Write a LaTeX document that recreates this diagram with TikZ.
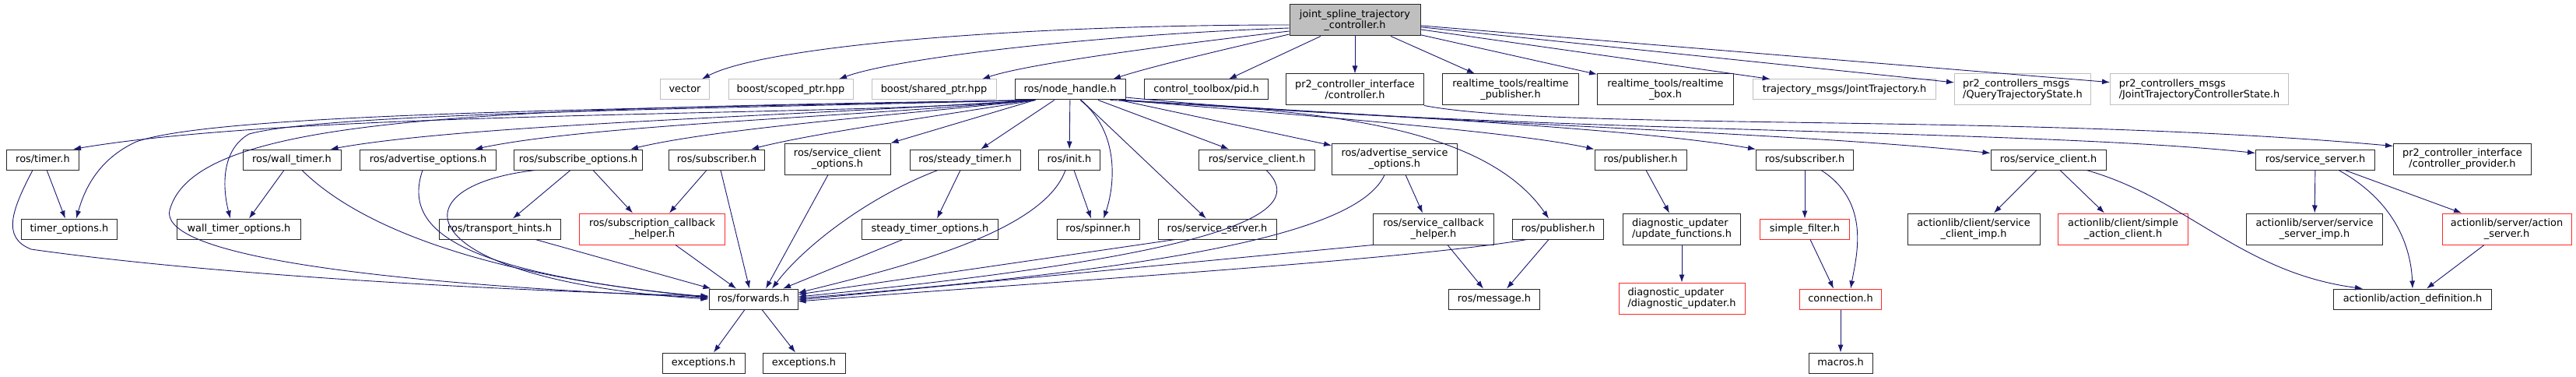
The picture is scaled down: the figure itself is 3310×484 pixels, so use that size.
\documentclass[tikz,border=0pt]{standalone}
\usepackage{fontspec}
\setmainfont{DejaVu Sans}
\usetikzlibrary{arrows.meta}
\definecolor{edgeblue}{RGB}{25,25,112}
\definecolor{truncred}{RGB}{255,40,40}
\definecolor{nodocgrey}{RGB}{191,191,191}
\newcommand{\graphfont}{\fontsize{12.9}{14}\selectfont}

\begin{document}
\begin{tikzpicture}[x=1pt, y=-1pt,
filebox/.style={draw=black!85, line width=1pt, fill=white, inner sep=0pt, font=\graphfont},
oneline/.style={filebox, minimum height=26pt, text height=9.6pt, text depth=3pt},
twoline/.style={filebox, minimum height=40pt, align=center},
nodoc/.style={draw=nodocgrey},
trunc/.style={draw=truncred},
dep/.style={draw=edgeblue, line width=0.9pt, -{Latex[length=10pt,width=7pt]}}]
\useasboundingbox (0,0) rectangle (3310,484);

\node [twoline, fill=nodocgrey, minimum width=168pt] (root) at (1741,26) {joint\_spline\_trajectory\\\_controller.h};

\node [oneline, nodoc, minimum width=63pt] (vector) at (880,115) {vector};
\node [oneline, nodoc, minimum width=160pt] (scopedptr) at (1016,115) {boost/scoped\_ptr.hpp};
\node [oneline, nodoc, minimum width=160pt] (sharedptr) at (1200,115) {boost/shared\_ptr.hpp};
\node [oneline, minimum width=142pt] (nodehandle) at (1375,115) {ros/node\_handle.h};
\node [oneline, minimum width=159pt] (pid) at (1550,115) {control\_toolbox/pid.h};
\node [twoline, minimum width=177pt] (controller) at (1741,115) {pr2\_controller\_interface\\/controller.h};
\node [twoline, minimum width=175pt] (rtpublisher) at (1941,115) {realtime\_tools/realtime\\\_publisher.h};
\node [twoline, minimum width=175pt] (rtbox) at (2140,115) {realtime\_tools/realtime\\\_box.h};
\node [oneline, nodoc, minimum width=235pt] (jointtraj) at (2370,115) {trajectory\_msgs/JointTrajectory.h};
\node [twoline, nodoc, align=left, minimum width=175pt] (querystate) at (2599,115) {pr2\_controllers\_msgs\\/QueryTrajectoryState.h};
\node [twoline, nodoc, align=left, minimum width=229pt] (jtcstate) at (2826,115) {pr2\_controllers\_msgs\\/JointTrajectoryControllerState.h};

\node [oneline, minimum width=93pt] (timer) at (55,205) {ros/timer.h};
\node [oneline, minimum width=126pt] (walltimer) at (375,205) {ros/wall\_timer.h};
\node [oneline, minimum width=175pt] (advopts) at (550,205) {ros/advertise\_options.h};
\node [oneline, minimum width=165pt] (subopts) at (743,205) {ros/subscribe\_options.h};
\node [oneline, minimum width=123pt] (subscriberA) at (921,205) {ros/subscriber.h};
\node [twoline, minimum width=136pt] (srvclientopts) at (1076,204) {ros/service\_client\\\_options.h};
\node [oneline, minimum width=142pt] (steadytimer) at (1240,205) {ros/steady\_timer.h};
\node [oneline, minimum width=79pt] (init) at (1374,205) {ros/init.h};
\node [oneline, minimum width=149pt] (srvclientA) at (1615,205) {ros/service\_client.h};
\node [twoline, minimum width=161pt] (advsrvopts) at (1792,204) {ros/advertise\_service\\\_options.h};
\node [oneline, minimum width=118pt] (publisherB) at (2108,205) {ros/publisher.h};
\node [oneline, minimum width=125pt] (subscriberB) at (2319,205) {ros/subscriber.h};
\node [oneline, minimum width=148pt] (srvclientB) at (2632,205) {ros/service\_client.h};
\node [oneline, minimum width=153pt] (srvserverB) at (2975,205) {ros/service\_server.h};
\node [twoline, minimum width=177pt] (provider) at (3164,204) {pr2\_controller\_interface\\/controller\_provider.h};

\node [oneline, minimum width=123pt] (timeropts) at (89,294) {timer\_options.h};
\node [oneline, minimum width=159pt] (walltimeropts) at (307,294) {wall\_timer\_options.h};
\node [oneline, minimum width=156pt] (transporthints) at (642,294) {ros/transport\_hints.h};
\node [twoline, trunc, minimum width=187pt] (subcbhelper) at (838,294) {ros/subscription\_callback\\\_helper.h};
\node [oneline, minimum width=175pt] (steadytimeropts) at (1195,294) {steady\_timer\_options.h};
\node [oneline, minimum width=106pt] (spinner) at (1411,294) {ros/spinner.h};
\node [oneline, minimum width=152pt] (srvserverA) at (1564,294) {ros/service\_server.h};
\node [twoline, minimum width=155pt] (srvcbhelper) at (1842,294) {ros/service\_callback\\\_helper.h};
\node [oneline, minimum width=117pt] (publisherA) at (2002,294) {ros/publisher.h};
\node [twoline, align=left, minimum width=151pt] (updatefns) at (2161,294) {diagnostic\_updater\\/update\_functions.h};
\node [oneline, trunc, minimum width=115pt] (simplefilter) at (2319,294) {simple\_filter.h};
\node [twoline, minimum width=170pt] (clientimp) at (2536,294) {actionlib/client/service\\\_client\_imp.h};
\node [twoline, trunc, minimum width=167pt] (simpleclient) at (2728,294) {actionlib/client/simple\\\_action\_client.h};
\node [twoline, minimum width=175pt] (serverimp) at (2974,294) {actionlib/server/service\\\_server\_imp.h};
\node [twoline, trunc, minimum width=166pt] (actionserver) at (3221,294) {actionlib/server/action\\\_server.h};

\node [oneline, minimum width=114pt] (forwards) at (968,384) {ros/forwards.h};
\node [oneline, minimum width=117pt] (message) at (1920,384) {ros/message.h};
\node [twoline, trunc, align=left, minimum width=162pt] (diagupdater) at (2161,383) {diagnostic\_updater\\/diagnostic\_updater.h};
\node [oneline, trunc, minimum width=105pt] (connection) at (2365,384) {connection.h};
\node [oneline, minimum width=203pt] (actiondef) at (3100,384) {actionlib/action\_definition.h};

\node [oneline, minimum width=106pt] (exceptionsA) at (904,466) {exceptions.h};
\node [oneline, minimum width=106pt] (exceptionsB) at (1033,466) {exceptions.h};
\node [oneline, minimum width=82pt] (macros) at (2365,466) {macros.h};

\draw[dep] ([yshift=-6pt]root.west) .. controls (1300,32) and (980,60) .. ([xshift=22pt]vector.north);
\draw[dep] ([yshift=-10pt]root.west) .. controls (1400,45) and (1150,75) .. ([xshift=62pt]scopedptr.north);
\draw[dep] ([yshift=-14pt]root.west) .. controls (1500,58) and (1320,82) .. ([xshift=62pt]sharedptr.north);
\draw[dep] ([yshift=-18pt]root.west) .. controls (1580,62) and (1480,85) .. ([xshift=55pt]nodehandle.north);
\foreach \t in {pid,controller,rtpublisher,rtbox,jointtraj,querystate,jtcstate}
  \draw[dep] (root) -- (\t);
\draw[dep] (controller.south east) .. controls (2000,168) and (2600,145) .. ([yshift=-4pt]provider.north west);

\foreach \t in {srvclientopts,steadytimer,init,srvserverA,srvclientA,advsrvopts}
  \draw[dep] (nodehandle) -- (\t);
\draw[dep] ([xshift=24pt]nodehandle.south west) .. controls (1100,150) and (400,140) .. ([xshift=-8pt]timer.north east);
\draw[dep] ([xshift=24pt]nodehandle.south west) .. controls (800,140) and (280,145) .. (175,182) .. controls (125,205) and (108,245) .. ([xshift=9pt]timeropts.north);
\draw[dep] ([xshift=24pt]nodehandle.south west) .. controls (600,140) and (250,150) .. (218,270) .. controls (205,330) and (500,365) .. ([yshift=2pt]forwards.west);
\draw[dep] ([xshift=24pt]nodehandle.south west) .. controls (900,140) and (420,145) .. (320,172) .. controls (280,195) and (288,250) .. ([xshift=-11pt]walltimeropts.north);
\draw[dep] ([xshift=26pt]nodehandle.south west) .. controls (1000,150) and (600,160) .. ([xshift=-14pt]walltimer.north east);
\draw[dep] ([xshift=26pt]nodehandle.south west) .. controls (1100,150) and (760,160) .. ([xshift=-28pt]advopts.north east);
\draw[dep] ([xshift=27pt]nodehandle.south west) .. controls (1150,148) and (920,165) .. ([xshift=-16pt]subopts.north east);
\draw[dep] ([xshift=27pt]nodehandle.south west) .. controls (1200,150) and (1050,170) .. ([xshift=-18pt]subscriberA.north east);
\draw[dep] ([xshift=13pt]nodehandle.south) .. controls (1440,170) and (1432,240) .. ([xshift=7pt]spinner.north);
\draw[dep] ([xshift=-6pt]nodehandle.south east) .. controls (1700,150) and (1950,170) .. (publisherB.north west);
\draw[dep] ([xshift=-4pt]nodehandle.south east) .. controls (1800,150) and (2100,165) .. (subscriberB.north west);
\draw[dep] ([xshift=-2pt]nodehandle.south east) .. controls (1900,160) and (2300,170) .. ([yshift=-5pt]srvclientB.north west);
\draw[dep] ([yshift=-10pt]nodehandle.east) .. controls (1900,170) and (2600,165) .. ([yshift=-5pt]srvserverB.north west);
\draw[dep] ([xshift=-20pt]nodehandle.south east) .. controls (1650,140) and (1900,150) .. ([xshift=-12pt]publisherA.north);

\draw[dep] (timer) -- (timeropts);
\draw[dep] ([xshift=-13pt]timer.south) .. controls (15,270) and (2,305) .. (40,320) .. controls (250,350) and (600,372) .. ([yshift=4pt]forwards.west);
\draw[dep] ([xshift=-10pt]walltimer.south) -- ([xshift=13pt]walltimeropts.north);
\draw[dep] ([xshift=13pt]walltimer.south) .. controls (460,290) and (620,355) .. ([yshift=3pt]forwards.west);
\draw[dep] ([xshift=-7pt]advopts.south) .. controls (515,300) and (600,350) .. ([yshift=2pt]forwards.west);
\draw[dep] ([xshift=-55pt]subopts.south) .. controls (500,240) and (530,360) .. (forwards.west);
\draw[dep] ([xshift=-10pt]subopts.south) -- ([xshift=17pt]transporthints.north);
\draw[dep] ([xshift=19pt]subopts.south) -- ([xshift=-25pt]subcbhelper.north);
\draw[dep] ([xshift=46pt]transporthints.south) -- ([xshift=3pt]forwards.north west);
\draw[dep] ([xshift=-13pt]subscriberA.south) -- ([xshift=22pt]subcbhelper.north);
\draw[dep] ([xshift=5pt]subscriberA.south) -- ([xshift=-5pt]forwards.north);
\draw[dep] ([xshift=30pt]subcbhelper.south) -- ([xshift=-22pt]forwards.north);
\draw[dep] ([xshift=-12pt]srvclientopts.south) -- ([xshift=16pt]forwards.north);
\draw[dep] ([xshift=-6pt]steadytimer.south) -- ([xshift=9pt]steadytimeropts.north);
\draw[dep] ([xshift=-35pt]steadytimer.south) .. controls (1110,255) and (1030,320) .. ([xshift=24pt]forwards.north);
\draw[dep] ([xshift=-35pt]steadytimeropts.south) -- ([xshift=38pt]forwards.north);
\draw[dep] ([xshift=6pt]init.south) -- ([xshift=-9pt]spinner.north);
\draw[dep] ([xshift=-5pt]init.south) .. controls (1340,300) and (1150,345) .. ([yshift=8pt]forwards.east);
\draw[dep] ([xshift=-54pt]srvserverA.south) -- ([yshift=6pt]forwards.east);
\draw[dep] ([xshift=12pt]srvclientA.south) .. controls (1680,270) and (1600,325) .. ([yshift=3pt]forwards.east);
\draw[dep] ([xshift=14pt]advsrvopts.south) -- ([xshift=-14pt]srvcbhelper.north);
\draw[dep] ([xshift=-13pt]advsrvopts.south) .. controls (1745,300) and (1500,345) .. ([yshift=1pt]forwards.east);
\draw[dep] ([xshift=18pt]srvcbhelper.south) -- ([xshift=-14pt]message.north);
\draw[dep] (srvcbhelper.south west) -- ([yshift=-1pt]forwards.east);
\draw[dep] ([xshift=-12pt]publisherA.south) -- ([xshift=16pt]message.north);
\draw[dep] ([xshift=-40pt]publisherA.south) .. controls (1800,335) and (1300,365) .. ([yshift=-3pt]forwards.east);
\draw[dep] ([xshift=7pt]publisherB.south) -- ([xshift=-16pt]updatefns.north);
\draw[dep] (updatefns) -- (diagupdater);
\draw[dep] (subscriberB) -- (simplefilter);
\draw[dep] ([xshift=21pt]subscriberB.south) .. controls (2405,260) and (2385,330) .. ([xshift=13pt]connection.north);
\draw[dep] ([xshift=7pt]simplefilter.south) -- ([xshift=-9pt]connection.north);
\draw[dep] (connection) -- (macros);
\draw[dep] ([xshift=-15pt]srvclientB.south) -- ([xshift=26pt]clientimp.north);
\draw[dep] ([xshift=15pt]srvclientB.south) -- ([xshift=-24pt]simpleclient.north);
\draw[dep] ([xshift=49pt]srvclientB.south) .. controls (2810,255) and (2880,350) .. ([xshift=-64pt]actiondef.north);
\draw[dep] (srvserverB) -- (serverimp);
\draw[dep] ([xshift=30pt]srvserverB.south) .. controls (3080,260) and (3098,320) .. (actiondef.north);
\draw[dep] ([xshift=38pt]srvserverB.south) -- ([xshift=-58pt]actionserver.north);
\draw[dep] ([xshift=-29pt]actionserver.south) -- ([xshift=18pt]actiondef.north);
\draw[dep] ([xshift=-11pt]forwards.south) -- ([xshift=13pt]exceptionsA.north);
\draw[dep] ([xshift=11pt]forwards.south) -- ([xshift=-11pt]exceptionsB.north);
\end{tikzpicture}
\end{document}
